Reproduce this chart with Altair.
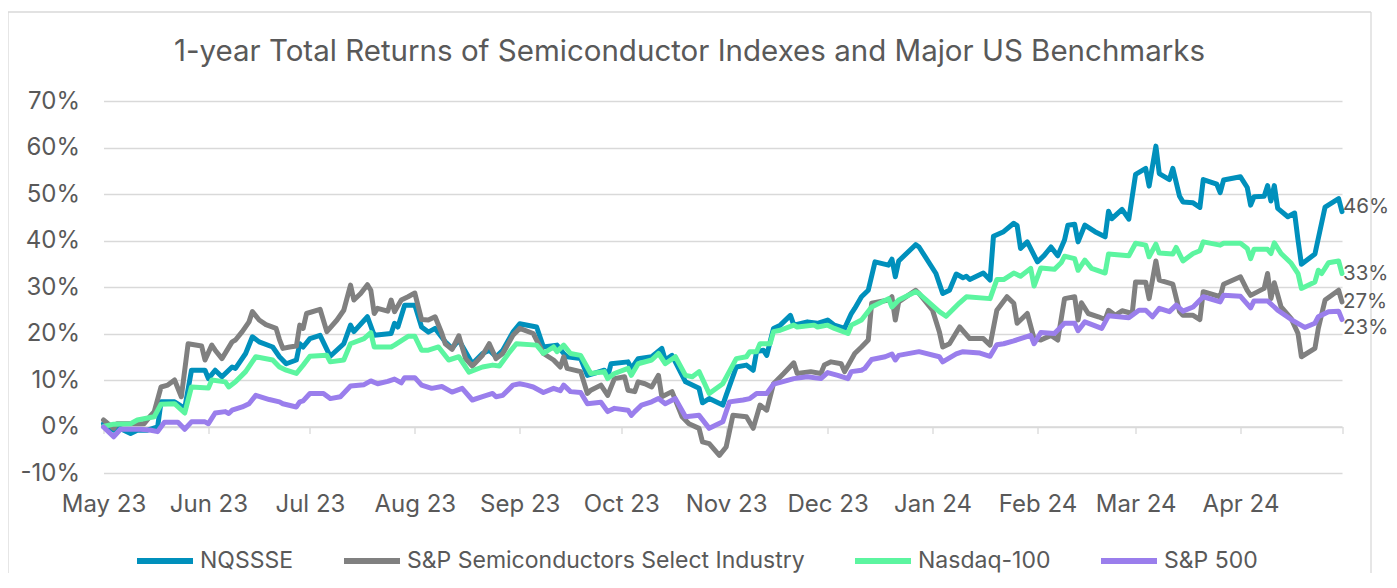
import altair as alt
import pandas as pd

TITLE = "1-year Total Returns of Semiconductor Indexes and Major US Benchmarks"
START = "2023-05-01"  # day 0 of the (day, value%) readings below
SERIES = ["NQSSSE", "S&P Semiconductors Select Industry", "Nasdaq-100", "S&P 500"]
COLORS = ["#0090BC", "#808080", "#5CF5A0", "#9A7EEC"]
MONTH_STARTS = ["2023-05", "2023-06", "2023-07", "2023-08", "2023-09", "2023-10", "2023-11",
                "2023-12", "2024-01", "2024-02", "2024-03", "2024-04", "2024-05"]
Y_TICKS = [-10, 0, 10, 20, 30, 40, 50, 60, 70]

NQSSSE = [(0,0.6),(3,-0.8),(4,-0.1),(8,-1.5),(10,-0.8),(13,-0.8),(16,-0.1),(17,5.3),(21,5.3),(24,3.9),(26,12.1),(30,12.1),(31,10.3),(33,12.1),(35,10.7),(38,12.8),(39,12.5),(42,15.7),(44,19.3),(46,18.2),(50,17.1),(52,15.0),(54,13.5),(57,14.3),(58,17.8),(59,17.1),(61,18.9),(64,19.6),(67,15.1),(71,17.8),(73,21.8),(74,20.4),(78,23.6),(80,19.6),(85,20.0),(86,22.2),(87,21.4),(89,26.1),(92,26.1),(94,21.4),(96,20.3),(98,21.1),(101,18.2),(103,16.8),(105,18.6),(109,13.5),(112,15.7),(114,16.4),(116,15.0),(118,16.4),(121,20.3),(123,22.1),(128,21.4),(130,17.1),(134,17.5),(136,15.7),(137,15.0),(141,14.6),(143,11.0),(148,12.1),(149,10.7),(150,13.5),(155,13.9),(156,12.5),(158,14.6),(162,15.0),(165,16.8),(166,14.3),(168,15.3),(172,9.6),(176,8.2),(177,5.1),(179,6.0),(183,4.6),(184,6.7),(187,12.8),(190,13.2),(192,12.1),(193,16.1),(195,16.4),(196,15.3),(198,21.1),(200,21.8),(203,23.9),(204,21.8),(208,22.5),(211,22.2),(214,22.9),(216,21.8),(219,21.1),(221,24.3),(222,25.4),(224,27.9),(226,29.3),(228,35.4),(232,34.7),(233,36.0),(234,32.2),(235,35.6),(240,39.1),(241,38.6),(246,32.9),(248,28.6),(250,29.3),(252,32.8),(254,32.0),(255,32.3),(256,31.6),(260,33.0),(262,31.5),(263,40.9),(266,41.9),(269,43.7),(270,43.2),(271,38.3),(273,39.7),(276,35.4),(278,36.8),(280,38.6),(282,36.7),(284,40.1),(285,43.3),(287,43.5),(288,39.7),(290,43.3),(293,41.9),(296,40.8),(297,46.3),(298,44.7),(301,46.7),(303,44.6),(305,54.2),(308,55.5),(309,51.7),(311,60.3),(312,54.4),(315,53.1),(316,55.5),(318,49.5),(319,48.3),(322,48.1),(324,47.1),(325,53.1),(329,52.1),(330,50.3),(331,53.0),(336,53.7),(338,51.4),(339,47.6),(340,49.4),(343,49.5),(344,51.8),(345,48.5),(346,51.8),(347,46.9),(350,45.1),(352,45.9),(353,40.1),(354,34.9),(358,37.1),(361,47.2),(365,49.0),(366,46.2)]

SP_SEMI = [(0,1.4),(3,-0.4),(4,0.6),(12,0.6),(14,2.4),(15,3.2),(17,8.5),(19,8.9),(21,10.0),(23,6.4),(25,17.8),(29,17.3),(30,14.3),(32,17.5),(33,16.4),(35,14.6),(38,18.2),(39,18.6),(41,20.4),(43,22.5),(44,24.7),(46,22.9),(48,21.9),(51,21.1),(52,18.7),(53,16.8),(55,17.1),(57,17.3),(58,21.8),(59,21.1),(60,24.3),(64,25.2),(66,20.4),(69,22.9),(71,25.0),(73,30.4),(74,27.2),(76,28.6),(78,30.5),(79,29.3),(80,24.3),(81,25.4),(84,24.8),(85,27.2),(86,24.7),(88,27.2),(90,27.9),(92,28.7),(94,23.0),(96,22.9),(98,23.6),(100,20.0),(101,17.8),(103,16.6),(105,19.5),(107,14.6),(109,13.0),(112,15.3),(114,17.8),(116,14.6),(118,15.7),(121,19.6),(123,21.1),(127,20.0),(130,15.7),(133,14.3),(135,12.8),(136,15.0),(137,12.5),(141,11.8),(143,7.1),(144,7.8),(147,8.9),(149,6.7),(151,10.3),(154,10.7),(155,7.8),(157,7.5),(158,9.6),(160,9.2),(162,8.5),(164,11.0),(165,6.4),(168,7.5),(171,2.1),(173,0.6),(176,-0.4),(177,-3.3),(179,-3.7),(182,-6.2),(184,-4.4),(186,2.4),(190,2.1),(192,-0.4),(194,4.6),(196,3.5),(198,9.2),(201,11.4),(204,13.7),(205,11.4),(209,11.8),(212,11.4),(213,13.2),(215,13.9),(218,13.5),(219,11.8),(222,15.7),(224,17.1),(226,18.6),(227,26.5),(232,27.2),(233,27.9),(234,22.9),(235,26.8),(240,29.3),(241,28.6),(245,25.0),(247,20.4),(248,17.1),(250,17.8),(253,21.4),(256,18.9),(260,18.9),(262,17.5),(264,25.0),(267,27.9),(269,26.5),(270,22.2),(273,24.3),(275,18.9),(277,18.6),(280,19.6),(282,18.6),(284,27.5),(287,27.9),(288,22.9),(289,26.6),(291,24.3),(294,23.6),(296,23.0),(297,25.0),(299,23.9),(301,24.9),(304,24.3),(305,31.1),(308,31.0),(309,27.5),(311,35.6),(312,31.5),(316,30.6),(318,24.7),(319,23.9),(322,23.9),(324,23.0),(325,29.0),(330,27.9),(331,30.6),(336,32.2),(338,29.3),(339,28.2),(343,29.7),(344,32.9),(345,27.5),(346,30.9),(348,25.7),(351,23.2),(353,20.0),(354,15.0),(358,16.8),(359,21.1),(361,27.2),(365,29.3),(366,26.8)]

NASDAQ100 = [(0,0.0),(3,0.5),(8,0.6),(10,1.4),(15,2.1),(17,4.8),(21,4.9),(24,2.9),(26,8.5),(31,8.3),(32,10.0),(36,9.6),(37,8.5),(39,9.6),(42,11.8),(45,15.0),(50,14.3),(52,12.8),(54,12.1),(57,11.4),(59,13.2),(61,15.1),(66,15.3),(67,13.9),(71,14.3),(73,17.8),(77,18.9),(79,20.2),(80,17.1),(85,17.1),(86,17.5),(90,19.4),(92,19.4),(94,16.4),(96,16.4),(99,17.1),(102,14.3),(105,15.0),(108,11.7),(112,12.8),(115,13.2),(117,13.0),(120,16.0),(122,17.8),(128,17.5),(130,15.7),(133,17.1),(134,16.1),(136,17.5),(138,15.7),(141,15.3),(144,11.4),(148,11.8),(149,10.3),(151,11.4),(155,12.5),(156,11.0),(158,13.5),(162,14.3),(164,15.7),(166,13.5),(169,15.0),(172,11.0),(174,10.7),(176,11.8),(179,7.1),(183,9.2),(187,14.6),(190,15.0),(191,16.1),(193,16.1),(194,17.8),(197,17.8),(198,20.4),(200,20.7),(204,21.8),(205,21.4),(210,21.8),(211,21.4),(214,21.8),(216,21.1),(220,20.0),(221,21.8),(224,22.9),(227,25.7),(232,27.5),(233,25.7),(235,27.2),(240,29.0),(241,28.6),(247,24.7),(249,23.7),(253,26.6),(255,27.9),(262,27.5),(264,31.6),(266,31.6),(269,33.0),(271,32.3),(274,34.0),(275,30.2),(277,34.1),(281,33.8),(283,35.2),(284,36.6),(287,36.1),(288,33.6),(290,35.8),(292,34.0),(296,33.0),(297,37.1),(303,36.7),(305,39.4),(308,39.0),(309,36.5),(311,39.2),(312,37.3),(316,37.1),(317,38.5),(319,35.6),(322,37.2),(324,37.8),(325,39.7),(330,39.0),(331,39.4),(336,39.4),(338,38.3),(339,36.1),(340,38.1),(344,38.1),(345,37.2),(346,39.5),(348,37.2),(351,35.1),(353,32.9),(354,29.7),(358,31.1),(359,33.6),(360,32.9),(362,35.2),(365,35.6),(366,32.9)]

SP500 = [(0,-0.1),(3,-2.2),(5,-0.6),(11,-0.6),(14,-0.8),(16,-1.1),(18,0.9),(22,0.9),(24,-0.6),(26,1.0),(30,1.0),(31,0.6),(33,2.9),(36,3.2),(37,2.8),(38,3.5),(41,4.2),(43,4.9),(45,6.7),(49,5.8),(52,5.3),(53,4.9),(57,4.2),(58,5.3),(59,5.5),(61,7.1),(65,7.1),(67,6.0),(70,6.4),(73,8.7),(77,9.0),(79,9.8),(81,9.2),(84,9.7),(86,10.2),(88,9.4),(89,10.5),(92,10.5),(94,8.9),(97,8.2),(100,8.6),(103,7.4),(106,8.2),(109,5.7),(112,6.4),(115,7.1),(116,6.4),(118,6.7),(121,8.9),(123,9.2),(125,8.9),(127,8.5),(130,7.3),(133,8.2),(135,7.7),(136,8.9),(138,7.5),(141,7.3),(143,4.9),(147,5.2),(149,3.2),(151,3.9),(155,3.5),(156,2.4),(157,3.2),(159,4.6),(162,5.3),(164,6.0),(166,4.9),(169,6.0),(172,2.1),(176,2.4),(179,-0.4),(183,1.0),(185,5.3),(189,5.7),(191,6.0),(193,7.1),(196,7.1),(198,9.1),(200,9.5),(204,10.3),(208,10.7),(212,10.3),(214,11.6),(217,11.0),(220,10.3),(221,11.8),(224,12.1),(225,12.5),(227,14.4),(231,15.0),(233,15.6),(234,14.3),(235,15.3),(241,16.1),(247,15.0),(248,13.9),(252,15.6),(254,16.1),(259,15.8),(262,15.1),(264,17.6),(266,17.8),(269,18.4),(271,18.9),(274,19.6),(275,17.8),(277,20.2),(281,20.0),(284,22.2),(287,22.2),(288,20.6),(290,22.5),(295,21.1),(297,23.8),(303,23.4),(306,25.0),(308,25.0),(310,23.6),(312,25.4),(315,24.7),(317,26.1),(319,24.8),(322,25.7),(325,27.9),(330,26.8),(331,28.2),(336,28.0),(339,25.5),(340,27.0),(344,27.0),(346,25.7),(347,25.0),(351,23.0),(355,21.3),(358,22.2),(359,23.6),(362,24.7),(365,24.8),(366,23.0)]

POINTS = [NQSSSE, SP_SEMI, NASDAQ100, SP500]

# ---------------- build table ----------------
start = pd.Timestamp(START)


def day_to_str(d):
    return (start + pd.Timedelta(days=d)).strftime("%Y-%m-%dT%H:%M:%S")


rows = []
for name, pts in zip(SERIES, POINTS):
    for d, v in pts:
        rows.append({"series": name, "date": day_to_str(d), "value": v})
df = pd.DataFrame(rows)

# ---------------- layout constants ----------------
W, H = 1238.5, 372
TXT = "#595959"
GRID = "#D9D9D9"
FONT = "Inter"

month_dt = [alt.DateTime(year=int(m[:4]), month=int(m[5:]), date=1) for m in MONTH_STARTS]

x_enc = alt.X(
    "date:T",
    title=None,
    scale=alt.Scale(domain=[month_dt[0], month_dt[-1]], nice=False),
    axis=alt.Axis(
        values=month_dt,
        format="%b %y",
        labelExpr="year(datum.value) == 2024 && month(datum.value) == 4 ? '' : timeFormat(datum.value, '%b %y')",
        orient="bottom",
        offset=-(H / 8.0),
        domainColor=GRID,
        domainWidth=1.3,
        tickColor=GRID,
        tickWidth=1.3,
        tickSize=7,
        labelPadding=59,
        labelFont=FONT,
        labelFontSize=24,
        labelColor=TXT,
        labelFlush=False,
        labelOverlap=False,
        grid=False,
    ),
)

y_enc = alt.Y(
    "value:Q",
    title=None,
    scale=alt.Scale(domain=[Y_TICKS[0], Y_TICKS[-1]], nice=False, zero=False),
    axis=alt.Axis(
        values=Y_TICKS,
        labelExpr="datum.value + '%'",
        domain=False,
        ticks=False,
        tickSize=0,
        labelPadding=24,
        grid=True,
        gridColor=GRID,
        gridWidth=1.3,
        labelFont=FONT,
        labelFontSize=24,
        labelColor=TXT,
    ),
)

color_enc = alt.Color(
    "series:N",
    scale=alt.Scale(domain=SERIES, range=COLORS),
    legend=alt.Legend(
        title=None,
        orient="none",
        legendX=30.5,
        legendY=429,
        direction="horizontal",
        symbolType="stroke",
        symbolSize=3136,
        symbolStrokeWidth=6,
        labelFont=FONT,
        labelFontSize=23,
        labelColor=TXT,
        labelOffset=4,
        columnPadding=38,
        labelLimit=1000,
        padding=0,
    ),
)

layers = []

# chart frame (decoration)
one = pd.DataFrame([{"k": 0}])
FL, FR, FT, FB = -95.5, 1267.5, -89, 480
frame_top = alt.Chart(one).mark_rule(color=GRID, strokeWidth=1.3).encode(
    x=alt.value(FL), x2=alt.value(FR), y=alt.value(FT))
frame_left = alt.Chart(one).mark_rule(color=GRID, strokeWidth=1.3).encode(
    x=alt.value(FL), y=alt.value(FT), y2=alt.value(FB))
frame_right = alt.Chart(one).mark_rule(color=GRID, strokeWidth=1.3).encode(
    x=alt.value(FR), y=alt.value(FT), y2=alt.value(FB))
layers += [frame_top, frame_left, frame_right]

# series lines, first series at the bottom
for s in SERIES:
    layers.append(
        alt.Chart(df)
        .transform_filter(alt.datum.series == s)
        .mark_line(strokeWidth=5, strokeJoin="round", strokeCap="round")
        .encode(x=x_enc, y=y_enc, color=color_enc)
    )

# end-of-line value labels
END_DY = {SERIES[0]: -5, SERIES[1]: 0, SERIES[2]: 0, SERIES[3]: 8}
for s, pts in zip(SERIES, POINTS):
    d, v = pts[-1]
    lab = pd.DataFrame([{"date": day_to_str(d), "value": v, "label": f"{round(v)}%"}])
    layers.append(
        alt.Chart(lab)
        .mark_text(align="left", baseline="middle", dx=1, dy=END_DY[s],
                   font=FONT, fontSize=20.5, color=TXT)
        .encode(x=x_enc, y=y_enc, text="label:N")
    )

# title
title_df = pd.DataFrame([{"t": TITLE}])
layers.append(
    alt.Chart(title_df)
    .mark_text(font=FONT, fontSize=29.5, color=TXT, align="center", baseline="alphabetic")
    .encode(x=alt.value(586), y=alt.value(-40.5), text="t:N")
)

chart = (
    alt.layer(*layers)
    .properties(
        width=W,
        height=H,
        autosize=alt.AutoSizeParams(type="none"),
        padding={"left": 95.5, "top": 93, "right": 47, "bottom": 100},
    )
    .configure(background="white", font=FONT)
    .configure_view(stroke=None)
)

chart.save("out.html", embed_options={"renderer": "svg", "actions": False})
